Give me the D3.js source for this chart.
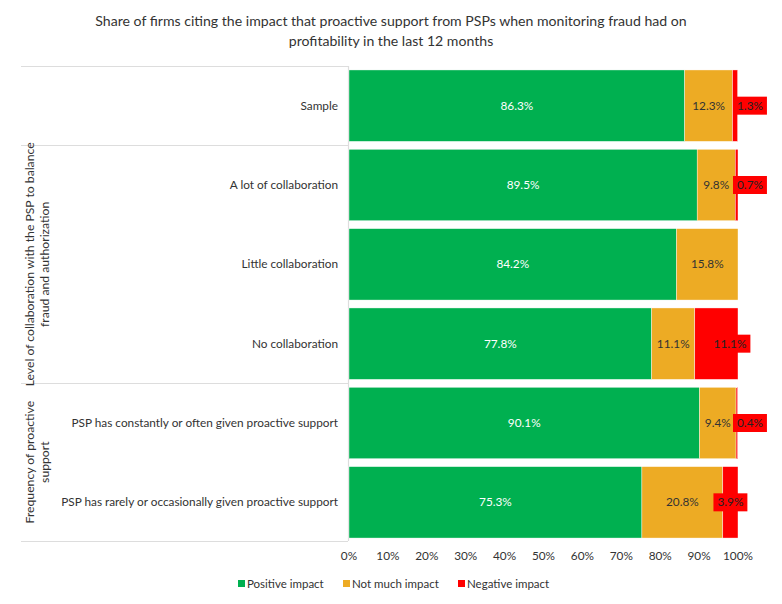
<!DOCTYPE html>
<html><head><meta charset="utf-8">
<script src="https://cdn.jsdelivr.net/npm/d3@7/dist/d3.min.js"></script>
<style>body{margin:0;background:#fff;}text{font-family:Lato,"Open Sans",sans-serif;}</style>
</head><body><svg id="c" width="782" height="604"></svg>
<script>
const categories = ["Sample","A lot of collaboration","Little collaboration","No collaboration","PSP has constantly or often given proactive support","PSP has rarely or occasionally given proactive support"];
const positive = [86.3, 89.5, 84.2, 77.8, 90.1, 75.3];
const notMuch = [12.3, 9.8, 15.8, 11.1, 9.4, 20.8];
const negative = [1.3, 0.7, 0, 11.1, 0.4, 3.9];
const seriesNames = ["Positive impact","Not much impact","Negative impact"];
const groups = [
  {lines:["Level of collaboration with the PSP to balance","fraud and authorization"], from:1, to:3},
  {lines:["Frequency of proactive","support"], from:4, to:5}
];
const xTicks = [0,10,20,30,40,50,60,70,80,90,100];
const colors = ["#00b050","#edab24","#ff0000"];
const titleLines = ["Share of firms citing the impact that proactive support from PSPs when monitoring fraud had on","profitability in the last 12 months"];

const svg = d3.select("#c");
const x = d3.scaleLinear().domain([0,100]).range([349,738]);
const y = d3.scaleBand().domain(categories).range([66,542]).paddingInner(0.1).paddingOuter(0.05);
const fs = 11.8;

// title
svg.append("g").selectAll("text").data(titleLines).join("text")
  .attr("x",391).attr("y",(d,i)=>26+i*20).attr("text-anchor","middle")
  .attr("font-size",14.1).attr("fill","#333").text(d=>d);

// table lines
const lineCol = "#dddddd";
const rowBot = i => y(categories[i]) + y.bandwidth() + y.step()*y.paddingInner()/2;
const hl = [66, rowBot(0), rowBot(3), 541];
svg.append("g").selectAll("line").data(hl).join("line")
  .attr("x1",21).attr("x2",348)
  .attr("y1",d=>Math.round(d)+0.5).attr("y2",d=>Math.round(d)+0.5)
  .attr("stroke",lineCol).attr("stroke-width",1.2);
svg.append("line").attr("x1",348.5).attr("x2",348.5).attr("y1",66).attr("y2",541)
  .attr("stroke",lineCol).attr("stroke-width",1.2);

// category labels
svg.append("g").selectAll("text").data(categories).join("text")
  .attr("x",338).attr("y",d=>y(d)+y.bandwidth()/2).attr("dy","0.35em")
  .attr("text-anchor","end").attr("font-size",fs).attr("fill","#333").text(d=>d);

// group labels
groups.forEach((g,gi)=>{
  const cy = gi===0 ? (rowBot(0)+rowBot(3))/2 : (rowBot(3)+541)/2;
  const t = svg.append("text").attr("transform",`translate(37,${cy}) rotate(-90)`)
    .attr("text-anchor","middle").attr("font-size",12.2).attr("fill","#333");
  g.lines.forEach((l,li)=>{
    t.append("tspan").attr("x",0).attr("y",(li-(g.lines.length-1)/2)*15.5).attr("dy","0.35em").text(l);
  });
});

// bars
const rows = categories.map((c,i)=>({c, vals:[positive[i],notMuch[i],negative[i]]}));
const barG = svg.append("g");
rows.forEach((r)=>{
  let acc = 0;
  const segs = r.vals.map((v,k)=>{const s={k,v,x0:acc,x1:acc+v}; acc+=v; return s;});
  barG.append("g").selectAll("rect").data(segs.filter(s=>s.v>0)).join("rect")
    .attr("x",s=>x(s.x0)).attr("width",s=>x(s.x1)-x(s.x0))
    .attr("y",y(r.c)).attr("height",y.bandwidth())
    .attr("fill",s=>colors[s.k]).attr("stroke","#fff").attr("stroke-width",0.4);
  const cy = y(r.c)+y.bandwidth()/2;
  let orangeRight = 0;
  segs.slice(0,2).forEach(s=>{
    const cx = (x(s.x0)+x(s.x1))/2;
    const t = barG.append("text").attr("x",cx).attr("y",cy).attr("dy","0.35em")
      .attr("text-anchor","middle").attr("font-size",fs)
      .attr("fill", s.k===0 ? "#ffffff" : "#333").text(s.v.toFixed(1)+"%");
    if(s.k===1){ orangeRight = t.node().getBBox().x + t.node().getBBox().width; }
  });
  const n = segs[2];
  if(n.v>0){
    const label = n.v.toFixed(1)+"%";
    const tmp = barG.append("text").attr("font-size",fs).text(label);
    const w = tmp.node().getComputedTextLength(); tmp.remove();
    const bw = w+8, bh = 18;
    let cx = Math.max((x(n.x0)+x(n.x1))/2, 730);
    let left = cx - bw/2;
    if(left < orangeRight + 5){ left = x(100)-5; }
    barG.append("rect").attr("x",left).attr("y",cy-bh/2).attr("width",bw).attr("height",bh).attr("fill","#ff0000");
    barG.append("text").attr("x",left+bw/2).attr("y",cy).attr("dy","0.35em")
      .attr("text-anchor","middle").attr("font-size",fs).attr("fill","#222").text(label);
  }
});

// x axis
svg.append("g").selectAll("text").data(xTicks).join("text")
  .attr("x",d=>x(d)).attr("y",556).attr("dy","0.35em").attr("text-anchor","middle")
  .attr("font-size",fs).attr("fill","#333").text(d=>d+"%");

// legend
const legX = [238, 343, 458];
const lg = svg.append("g");
seriesNames.forEach((s,i)=>{
  lg.append("rect").attr("x",legX[i]).attr("y",580).attr("width",7).attr("height",7).attr("fill",colors[i]);
  lg.append("text").attr("x",legX[i]+9).attr("y",584).attr("dy","0.35em").attr("font-size",11.5).attr("fill","#333").text(s);
});
</script></body></html>
